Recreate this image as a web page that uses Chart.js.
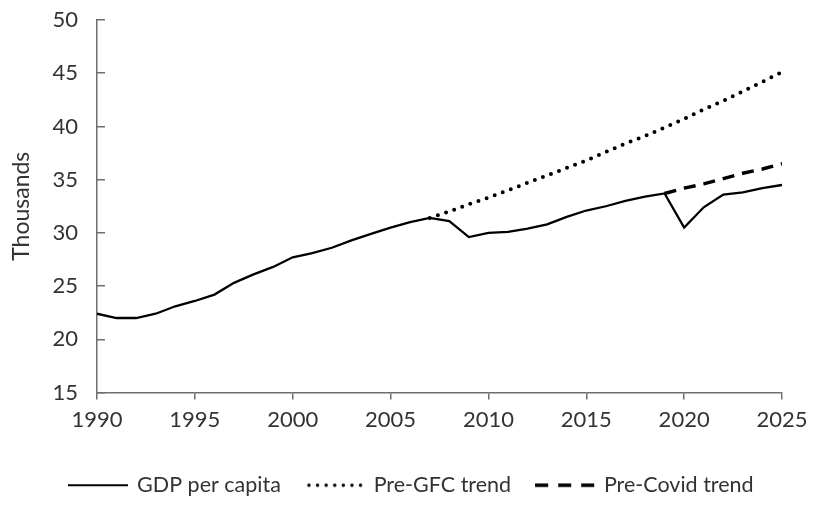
<!DOCTYPE html>
<html lang="en">
<head>
    <meta charset="UTF-8">
    <title>GDP per capita</title>
    <script src="https://cdn.jsdelivr.net/npm/chart.js@4.4.1/dist/chart.umd.min.js"></script>
    <style>
        body { margin: 0; background: #fff; }
        #chart-container { width: 815px; height: 516px; }
    </style>
</head>
<body>
    <div id="chart-container">
        <canvas id="gdpChart"></canvas>
    </div>

    <script>
        // GDP per capita, thousands
        const years = [1990, 1991, 1992, 1993, 1994, 1995, 1996, 1997, 1998, 1999,
                       2000, 2001, 2002, 2003, 2004, 2005, 2006, 2007, 2008, 2009,
                       2010, 2011, 2012, 2013, 2014, 2015, 2016, 2017, 2018, 2019,
                       2020, 2021, 2022, 2023, 2024, 2025];
        const gdpPerCapita = [22.4, 22.0, 22.0, 22.4, 23.1, 23.6, 24.2, 25.3, 26.1, 26.8,
                              27.7, 28.1, 28.6, 29.3, 29.9, 30.5, 31.0, 31.4, 31.1, 29.6,
                              30.0, 30.1, 30.4, 30.8, 31.5, 32.1, 32.5, 33.0, 33.4, 33.7,
                              30.5, 32.4, 33.6, 33.8, 34.2, 34.5];

        const gfcYears = [2007, 2008, 2009, 2010, 2011, 2012, 2013, 2014, 2015, 2016,
                          2017, 2018, 2019, 2020, 2021, 2022, 2023, 2024, 2025];
        const preGfcTrend = [31.4, 32.0, 32.7, 33.3, 34.0, 34.7, 35.4, 36.1, 36.8, 37.6,
                             38.4, 39.1, 39.9, 40.7, 41.6, 42.4, 43.3, 44.2, 45.1];

        const covidYears = [2019, 2020, 2021, 2022, 2023, 2024, 2025];
        const preCovidTrend = [33.7, 34.2, 34.6, 35.1, 35.6, 36.0, 36.5];

        const yTicks = [15, 20, 25, 30, 35, 40, 45, 50];

        const toPoints = (xs, ys) => xs.map((x, i) => ({ x: x, y: ys[i] }));

        const textColor = '#333333';
        const axisColor = '#6e6e6e';
        const fontFamily = 'Lato, sans-serif';

        // little line samples for the legend (Chart.js drops the dash on point-style legends)
        function legendSample(width, dash, cap, x0) {
            const c = document.createElement('canvas');
            c.width = 60;
            c.height = 8;
            const g = c.getContext('2d');
            g.strokeStyle = '#000';
            g.lineWidth = width;
            g.lineCap = cap;
            g.setLineDash(dash);
            g.beginPath();
            g.moveTo(x0, 4);
            g.lineTo(60, 4);
            g.stroke();
            return c;
        }

        // legend sits a bit right of centre in the original
        const legendNudge = {
            id: 'legendNudge',
            afterLayout(chart) {
                chart.legend.left += 17;
                chart.legend.right += 17;
            }
        };

        const ctx = document.getElementById('gdpChart').getContext('2d');
        const gdpChart = new Chart(ctx, {
            type: 'line',
            data: {
                datasets: [{
                    label: 'GDP per capita',
                    data: toPoints(years, gdpPerCapita),
                    borderColor: '#000',
                    borderWidth: 2.3,
                    pointRadius: 0,
                    pointStyle: legendSample(2, [], 'butt', 0),
                    tension: 0,
                    fill: false
                }, {
                    label: 'Pre-GFC trend',
                    data: toPoints(gfcYears, preGfcTrend),
                    borderColor: '#000',
                    borderWidth: 4,
                    borderDash: [0, 8.6],
                    borderCapStyle: 'round',
                    pointRadius: 0,
                    pointStyle: legendSample(3.5, [0, 8.6], 'round', 4),
                    fill: false
                }, {
                    label: 'Pre-Covid trend',
                    data: toPoints(covidYears, preCovidTrend),
                    borderColor: '#000',
                    borderWidth: 3.5,
                    borderDash: [12, 8],
                    pointRadius: 0,
                    pointStyle: legendSample(3.5, [13, 10], 'butt', 0),
                    fill: false
                }]
            },
            options: {
                responsive: true,
                maintainAspectRatio: false,
                animation: false,
                layout: {
                    padding: { top: 20, right: 33, bottom: 10, left: 8 }
                },
                plugins: {
                    tooltip: { enabled: false },
                    legend: {
                        position: 'bottom',
                        labels: {
                            usePointStyle: true,
                            pointStyleWidth: 56,
                            boxHeight: 21,
                            padding: 26,
                            color: textColor,
                            font: { family: fontFamily, size: 21.5 }
                        }
                    }
                },
                scales: {
                    x: {
                        type: 'linear',
                        min: 1990,
                        max: 2025,
                        border: { color: axisColor, width: 1.5 },
                        grid: { drawOnChartArea: false, tickLength: 7, color: axisColor, lineWidth: 1.5 },
                        ticks: {
                            stepSize: 5,
                            padding: 7,
                            color: textColor,
                            font: { family: fontFamily, size: 22 },
                            callback: v => String(v)
                        },
                        afterFit: scale => {
                            scale.height = 56;
                            scale.paddingLeft = 0;
                            scale.paddingRight = 0;
                        }
                    },
                    y: {
                        min: 15,
                        max: 50,
                        border: { color: axisColor, width: 1.5 },
                        grid: { drawOnChartArea: false, tickLength: -8, color: axisColor, lineWidth: 1.5 },
                        afterBuildTicks: scale => { scale.ticks = yTicks.map(v => ({ value: v })); },
                        ticks: {
                            padding: 27,
                            color: textColor,
                            font: { family: fontFamily, size: 22 }
                        },
                        title: {
                            display: true,
                            text: 'Thousands',
                            color: textColor,
                            font: { family: fontFamily, size: 23 },
                            padding: 0
                        },
                        afterFit: scale => {
                            scale.width = 89;
                            scale.paddingTop = 0;
                            scale.paddingBottom = 0;
                        }
                    }
                }
            },
            plugins: [legendNudge]
        });
    </script>
</body>
</html>
